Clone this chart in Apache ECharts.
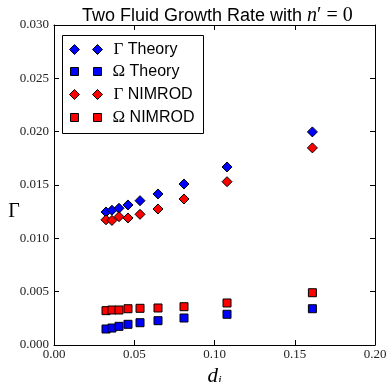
<!DOCTYPE html>
<html>
<head>
<meta charset="utf-8">
<script src="https://cdn.jsdelivr.net/npm/echarts@6/dist/echarts.min.js"></script>
<style>
  html, body { margin: 0; padding: 0; background: #fff; }
  #chart { width: 387px; height: 382px; }
</style>
</head>
<body>
<div id="chart"></div>
<script>
// ion inertial length d_i
var di = [0.0324, 0.0361, 0.0405, 0.0461, 0.0536, 0.0648, 0.0810, 0.1078, 0.1610];
// growth rate / frequency, theory and NIMROD
var gammaTheory = [0.01247, 0.01263, 0.01282, 0.01313, 0.01353, 0.01416, 0.01509, 0.01669, 0.01998];
var omegaTheory = [0.00150, 0.00159, 0.00175, 0.00194, 0.00209, 0.00228, 0.00253, 0.00288, 0.00340];
var gammaNimrod = [0.01174, 0.01168, 0.01203, 0.01191, 0.01225, 0.01275, 0.01369, 0.01531, 0.01848];
var omegaNimrod = [0.00322, 0.00328, 0.00328, 0.00340, 0.00344, 0.00347, 0.00359, 0.00394, 0.00490];
var xTicks = [0, 0.05, 0.10, 0.15, 0.20];
var yTicks = [0, 0.005, 0.010, 0.015, 0.020, 0.025, 0.030];

function pairs(ys) {
  return di.map(function (x, i) { return [x, ys[i]]; });
}

var serif = '"Liberation Serif", "DejaVu Serif", serif';
var sans = '"Liberation Sans", Arial, sans-serif';
var diamonds = 'path://M0,5L5,0L10,5L5,10Z M23,5L28,0L33,5L28,10Z';
var squares = 'path://M0,0H8V8H0Z M23,0H31V8H23Z';

var tickLabel = { fontFamily: serif, fontSize: 13, color: '#222' };
var line = { show: true, onZero: false, lineStyle: { color: '#000', width: 1 } };
var tick = { show: true, inside: true, length: 5, lineStyle: { color: '#000', width: 1 } };

function xAxis(pos, labels) {
  return {
    type: 'value', position: pos, min: xTicks[0], max: xTicks[xTicks.length - 1], interval: 0.05,
    axisLine: line, axisTick: tick, splitLine: { show: false },
    axisLabel: Object.assign({ show: labels, margin: 3, formatter: function (v) { return v.toFixed(2); } }, tickLabel)
  };
}
function yAxis(pos, labels) {
  return {
    type: 'value', position: pos, min: yTicks[0], max: yTicks[yTicks.length - 1], interval: 0.005,
    axisLine: line, axisTick: tick, splitLine: { show: false },
    axisLabel: Object.assign({ show: labels, margin: 5, formatter: function (v) { return v.toFixed(3); } }, tickLabel)
  };
}

function legend(name, icon, w, h, left, top) {
  return {
    data: [name], icon: icon, itemWidth: w, itemHeight: h, left: left, top: top, padding: 0, z: 10,
    selectedMode: false,
    itemStyle: { borderColor: '#000', borderWidth: 1 },
    formatter: function (n) {
      var p = n.split(' ');
      return '{g|' + p[0] + '}{t| ' + p[1] + '}';
    },
    textStyle: {
      rich: {
        g: { fontFamily: serif, fontSize: 17, color: '#000', padding: [0, 0, 0, 6] },
        t: { fontFamily: sans, fontSize: 16, color: '#000' }
      }
    }
  };
}

function scatter(name, ys, color, symbol, size) {
  return {
    type: 'scatter', name: name, data: pairs(ys), symbol: symbol, symbolSize: size,
    itemStyle: { color: color, borderColor: '#000', borderWidth: 1, opacity: 1 }
  };
}

var chart = echarts.init(document.getElementById('chart'));
chart.setOption({
  animation: false,
  title: {
    text: '{a|Two Fluid Growth Rate with }{n|n}{b|′ = 0}',
    left: 77, top: 1,
    textStyle: {
      fontWeight: 'normal',
      rich: {
        a: { fontFamily: sans, fontSize: 18, fontWeight: 'normal', color: '#000' },
        n: { fontFamily: serif, fontStyle: 'italic', fontWeight: 'normal', fontSize: 20, color: '#000' },
        b: { fontFamily: serif, fontWeight: 'normal', fontSize: 20, color: '#000' }
      }
    }
  },
  grid: { left: 54, right: 12, top: 25, bottom: 37, outerBoundsMode: 'none' },
  xAxis: [
    Object.assign(xAxis('bottom', true), {
      name: '{d|d}{i|i}', nameLocation: 'middle', nameGap: 14,
      nameTextStyle: { rich: {
        d: { fontFamily: serif, fontStyle: 'italic', fontSize: 21, color: '#000' },
        i: { fontFamily: serif, fontStyle: 'italic', fontSize: 13, color: '#000', padding: [8, 0, 0, 0] }
      } }
    }),
    xAxis('top', false)
  ],
  yAxis: [yAxis('left', true), yAxis('right', false)],
  legend: [
    legend('Γ Theory', diamonds, 33, 10, 69, 41),
    legend('Ω Theory', squares, 31, 8, 70, 63),
    legend('Γ NIMROD', diamonds, 33, 10, 69, 86),
    legend('Ω NIMROD', squares, 31, 8, 70, 109)
  ],
  graphic: [
    { type: 'rect', shape: { x: 62.5, y: 35.5, width: 141, height: 98 }, z: 5,
      style: { fill: '#fff', stroke: '#000', lineWidth: 1 } },
    { type: 'text', x: 14, y: 212, z: 5,
      style: { text: 'Γ', font: '20px ' + serif, fill: '#000', align: 'center', verticalAlign: 'middle' } }
  ],
  series: [
    scatter('Γ Theory', gammaTheory, '#0000ff', 'diamond', 10),
    scatter('Ω Theory', omegaTheory, '#0000ff', 'rect', 8),
    scatter('Γ NIMROD', gammaNimrod, '#ff0000', 'diamond', 10),
    scatter('Ω NIMROD', omegaNimrod, '#ff0000', 'rect', 8)
  ]
});
</script>
</body>
</html>
